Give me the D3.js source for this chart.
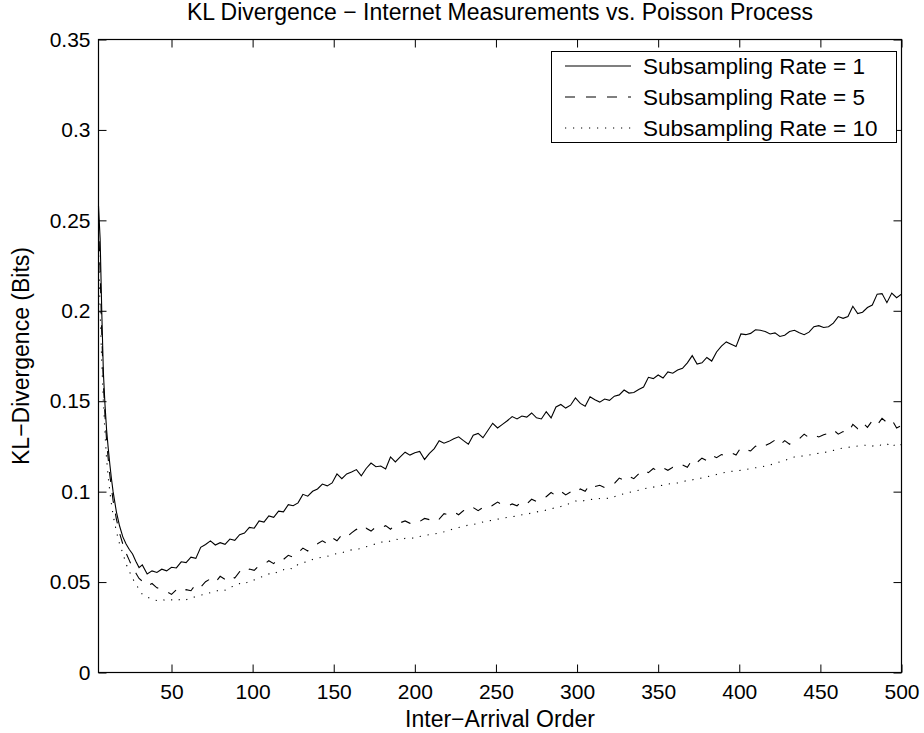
<!DOCTYPE html>
<html>
<head>
<meta charset="utf-8">
<script src="https://cdn.jsdelivr.net/npm/d3@7"></script>
<style>
  body { margin: 0; background: #fff; }
  svg { display: block; font-family: "Liberation Sans", Arial, Helvetica, sans-serif; }
</style>
</head>
<body>
<svg id="chart" width="924" height="733"></svg>
<script>
// inter-arrival order (x values shared by all three series)
const order = [5, 6, 7, 8, 9, 10, 11, 12, 13, 14, 16, 18, 20, 22, 24, 26, 28, 30,
  32, 35, 38, 41, 44, 47, 50, 53, 56, 59, 62, 65, 68, 71, 74, 77, 80, 83, 86, 89,
  92, 95, 98, 101, 104, 107, 110, 113, 116, 119, 122, 125, 128, 131, 134, 137, 140, 143,
  146, 149, 152, 155, 158, 161, 164, 167, 170, 173, 176, 179, 182, 185, 188, 191, 194, 197,
  200, 203, 206, 209, 212, 215, 218, 221, 224, 227, 230, 233, 236, 239, 242, 245, 248, 251,
  254, 257, 260, 263, 266, 269, 272, 275, 278, 281, 284, 287, 290, 293, 296, 299, 302, 305,
  308, 311, 314, 317, 320, 323, 326, 329, 332, 335, 338, 341, 344, 347, 350, 353, 356, 359,
  362, 365, 368, 371, 374, 377, 380, 383, 386, 389, 392, 395, 398, 401, 404, 407, 410, 413,
  416, 419, 422, 425, 428, 431, 434, 437, 440, 443, 446, 449, 452, 455, 458, 461, 464, 467,
  470, 473, 476, 479, 482, 485, 488, 491, 494, 497, 500];

// subsampling rate = 1
const klRate1 = [0.258, 0.240, 0.200, 0.166, 0.148, 0.134, 0.124, 0.115, 0.107, 0.100, 0.089, 0.081, 0.075, 0.071, 0.068, 0.0655, 0.0615, 0.058,
  0.0595, 0.0545, 0.0562, 0.0553, 0.0571, 0.0562, 0.0582, 0.0578, 0.0612, 0.0608, 0.0638, 0.0631, 0.0692, 0.0708, 0.0728, 0.0705, 0.0718, 0.0709, 0.0738, 0.0731,
  0.0762, 0.0771, 0.0802, 0.0798, 0.0838, 0.0832, 0.0866, 0.0858, 0.0892, 0.0888, 0.0928, 0.0922, 0.0938, 0.0985, 0.0975, 0.1002, 0.1015, 0.1042,
  0.1032, 0.1048, 0.1098, 0.1072, 0.1098, 0.1108, 0.1122, 0.1088, 0.1128, 0.1158, 0.1138, 0.1142, 0.1126, 0.1192, 0.1164, 0.1192, 0.1218, 0.1202,
  0.1215, 0.1222, 0.1178, 0.1212, 0.1238, 0.1282, 0.1268, 0.1278, 0.1292, 0.1303, 0.1282, 0.1262, 0.1312, 0.1322, 0.1298, 0.1338, 0.1378, 0.1352,
  0.1372, 0.1392, 0.1415, 0.1402, 0.1418, 0.1412, 0.1435, 0.1408, 0.1402, 0.1442, 0.1408, 0.1468, 0.1482, 0.1462, 0.1478, 0.1518, 0.1488, 0.1472,
  0.1525, 0.1508, 0.1495, 0.1512, 0.1505, 0.1528, 0.1535, 0.1562, 0.1545, 0.1548, 0.1565, 0.1578, 0.1632, 0.1625, 0.1645, 0.1628, 0.1662, 0.1655,
  0.1672, 0.1682, 0.1712, 0.1752, 0.1705, 0.1712, 0.1742, 0.1722, 0.1772, 0.1805, 0.1828, 0.1815, 0.1802, 0.1872, 0.1868, 0.1875, 0.1895, 0.1892,
  0.1885, 0.1872, 0.1878, 0.1858, 0.1865, 0.1885, 0.1892, 0.1878, 0.1868, 0.1882, 0.1912, 0.1918, 0.1908, 0.1912, 0.1932, 0.1968, 0.1958, 0.1968,
  0.2025, 0.1985, 0.1992, 0.2018, 0.2032, 0.2092, 0.2095, 0.2045, 0.2098, 0.2072, 0.2092];

// subsampling rate = 5
const klRate5 = [0.250, 0.222, 0.188, 0.160, 0.142, 0.128, 0.118, 0.109, 0.102, 0.095, 0.085, 0.077, 0.071, 0.066, 0.062, 0.058, 0.055, 0.052,
  0.0505, 0.0478, 0.0492, 0.0468, 0.0462, 0.0448, 0.0432, 0.0458, 0.0442, 0.0458, 0.0452, 0.0488, 0.0472, 0.0502, 0.0518, 0.0498, 0.0532, 0.0515, 0.0538, 0.0522,
  0.0558, 0.0545, 0.0572, 0.0565, 0.0592, 0.0598, 0.0618, 0.0602, 0.0632, 0.0625, 0.0648, 0.0638, 0.0662, 0.0688, 0.0672, 0.0698, 0.0712, 0.0728,
  0.0712, 0.0745, 0.0728, 0.0762, 0.0748, 0.0772, 0.0792, 0.0775, 0.0798, 0.0782, 0.0805, 0.0798, 0.0812, 0.0792, 0.0818, 0.0828, 0.0838, 0.0825,
  0.0842, 0.0835, 0.0852, 0.0845, 0.0862, 0.0848, 0.0878, 0.0872, 0.0888, 0.0872, 0.0895, 0.0888, 0.0912, 0.0895, 0.0912, 0.0905, 0.0925, 0.0942,
  0.0928, 0.0918, 0.0932, 0.0922, 0.0945, 0.0932, 0.0958, 0.0945, 0.0965, 0.0972, 0.0995, 0.0978, 0.1002, 0.0982, 0.0998, 0.0988, 0.1015, 0.1002,
  0.1042, 0.1028, 0.1035, 0.1022, 0.1032, 0.1045, 0.1075, 0.1062, 0.1085, 0.1072, 0.1098, 0.1122, 0.1105, 0.1128, 0.1112, 0.1132, 0.1118, 0.1135,
  0.1128, 0.1148, 0.1135, 0.1178, 0.1162, 0.1185, 0.1172, 0.1202, 0.1188, 0.1205, 0.1198, 0.1215, 0.1202, 0.1245, 0.1232, 0.1225, 0.1252, 0.1238,
  0.1255, 0.1268, 0.1285, 0.1258, 0.1282, 0.1262, 0.1285, 0.1292, 0.1318, 0.1298, 0.1312, 0.1302, 0.1315, 0.1322, 0.1342, 0.1318, 0.1332, 0.1325,
  0.1372, 0.1348, 0.1382, 0.1355, 0.1392, 0.1368, 0.1405, 0.1382, 0.1398, 0.1352, 0.1365];

// subsampling rate = 10
const klRate10 = [0.235, 0.200, 0.172, 0.150, 0.132, 0.118, 0.108, 0.100, 0.093, 0.087, 0.078, 0.071, 0.066, 0.060, 0.056, 0.052, 0.049, 0.046,
  0.0432, 0.0418, 0.0405, 0.0398, 0.0405, 0.0396, 0.0402, 0.0395, 0.0408, 0.0402, 0.0415, 0.0418, 0.0428, 0.0432, 0.0442, 0.0448, 0.0458, 0.0455, 0.0472, 0.0478,
  0.0492, 0.0488, 0.0508, 0.0512, 0.0525, 0.0532, 0.0545, 0.0542, 0.0562, 0.0568, 0.0578, 0.0572, 0.0598, 0.0608, 0.0612, 0.0625, 0.0632, 0.0638,
  0.0642, 0.0652, 0.0658, 0.0662, 0.0672, 0.0678, 0.0682, 0.0685, 0.0695, 0.0702, 0.0712, 0.0722, 0.0718, 0.0728, 0.0738, 0.0732, 0.0742, 0.0745,
  0.0742, 0.0752, 0.0758, 0.0762, 0.0765, 0.0772, 0.0778, 0.0785, 0.0795, 0.0802, 0.0808, 0.0815, 0.0818, 0.0825, 0.0832, 0.0838, 0.0842, 0.0848,
  0.0852, 0.0858, 0.0862, 0.0865, 0.0872, 0.0875, 0.0882, 0.0888, 0.0892, 0.0898, 0.0905, 0.0912, 0.0918, 0.0925, 0.0938, 0.0948, 0.0945, 0.0952,
  0.0958, 0.0955, 0.0962, 0.0965, 0.0962, 0.0972, 0.0982, 0.0988, 0.0995, 0.1002, 0.1008, 0.1015, 0.1022, 0.1025, 0.1032, 0.1035, 0.1042, 0.1045,
  0.1048, 0.1055, 0.1062, 0.1065, 0.1072, 0.1075, 0.1082, 0.1088, 0.1095, 0.1102, 0.1108, 0.1112, 0.1115, 0.1118, 0.1122, 0.1128, 0.1132, 0.1135,
  0.1142, 0.1148, 0.1155, 0.1165, 0.1172, 0.1182, 0.1192, 0.1195, 0.1198, 0.1202, 0.1208, 0.1212, 0.1215, 0.1222, 0.1228, 0.1235, 0.1242, 0.1245,
  0.1248, 0.1252, 0.1255, 0.1258, 0.1252, 0.1262, 0.1255, 0.1265, 0.1245, 0.1268, 0.1258];

const seriesNames = ["Subsampling Rate = 1", "Subsampling Rate = 5", "Subsampling Rate = 10"];
const xTicks = [50, 100, 150, 200, 250, 300, 350, 400, 450, 500];
const yTicks = [0, 0.05, 0.1, 0.15, 0.2, 0.25, 0.3, 0.35];
const yTickLabels = ["0", "0.05", "0.1", "0.15", "0.2", "0.25", "0.3", "0.35"];

const svg = d3.select("#chart");
const tickFont = 21;
const labelFont = 23;
const legendFont = 22.5;

// axes box
const boxLeft = 98.5, boxRight = 901.5, boxTop = 39.5, boxBottom = 672.5;

const x = d3.scaleLinear().domain([5, 500]).range([boxLeft, boxRight]);
const y = d3.scaleLinear().domain([0, 0.35]).range([boxBottom, boxTop]);

const dashes = ["none", "10,11", "1.2,6.8"];
const series = [klRate1, klRate5, klRate10].map((vals, i) => ({
  name: seriesNames[i],
  dash: dashes[i],
  points: order.map((o, j) => [o, vals[j]])
}));

// plot lines
const line = d3.line().x(d => x(d[0])).y(d => y(d[1]));

svg.append("g")
  .selectAll("path")
  .data(series)
  .join("path")
    .attr("d", d => line(d.points))
    .attr("fill", "none")
    .attr("stroke", "#000")
    .attr("stroke-width", 1.1)
    .attr("stroke-dasharray", d => d.dash);

// ticks, all pointing inward like matlab
function styleAxis(g) {
  g.select(".domain").remove();
  g.selectAll("line").attr("stroke", "#000");
  g.selectAll("text")
    .attr("fill", "#000")
    .attr("font-size", tickFont)
    .attr("font-family", "Liberation Sans, Arial, Helvetica, sans-serif");
}

svg.append("g")
  .attr("transform", `translate(0,${boxBottom})`)
  .call(d3.axisBottom(x).tickValues(xTicks).tickSizeInner(-8).tickSizeOuter(0).tickPadding(12))
  .call(styleAxis);

svg.append("g")
  .attr("transform", `translate(0,${boxTop})`)
  .call(d3.axisTop(x).tickValues(xTicks).tickSizeInner(-8).tickSizeOuter(0).tickFormat(""))
  .call(styleAxis);

svg.append("g")
  .attr("transform", `translate(${boxLeft},0)`)
  .call(d3.axisLeft(y).tickValues(yTicks).tickSizeInner(-8).tickSizeOuter(0).tickPadding(8)
    .tickFormat((d, i) => yTickLabels[i]))
  .call(styleAxis);

svg.append("g")
  .attr("transform", `translate(${boxRight},0)`)
  .call(d3.axisRight(y).tickValues(yTicks).tickSizeInner(-8).tickSizeOuter(0).tickFormat(""))
  .call(styleAxis);

svg.append("rect")
  .attr("x", boxLeft).attr("y", boxTop)
  .attr("width", boxRight - boxLeft).attr("height", boxBottom - boxTop)
  .attr("fill", "none")
  .attr("stroke", "#000")
  .attr("stroke-width", 1.2);

// titles
svg.append("text")
  .attr("x", (boxLeft + boxRight) / 2)
  .attr("y", 20)
  .attr("text-anchor", "middle")
  .attr("font-size", labelFont)
  .text("KL Divergence \u2212 Internet Measurements vs. Poisson Process");

svg.append("text")
  .attr("x", (boxLeft + boxRight) / 2)
  .attr("y", 727)
  .attr("text-anchor", "middle")
  .attr("font-size", labelFont)
  .text("Inter\u2212Arrival Order");

svg.append("text")
  .attr("transform", `translate(29,${(boxTop + boxBottom) / 2}) rotate(-90)`)
  .attr("text-anchor", "middle")
  .attr("font-size", labelFont)
  .text("KL\u2212Divergence (Bits)");

// legend
const legend = svg.append("g");
legend.append("rect")
  .attr("x", 551.5).attr("y", 51.5)
  .attr("width", 345).attr("height", 91)
  .attr("fill", "#fff")
  .attr("stroke", "#000")
  .attr("stroke-width", 1);

const rows = legend.selectAll("g.row")
  .data(series)
  .join("g")
    .attr("class", "row")
    .attr("transform", (d, i) => `translate(0,${66 + i * 31})`);

rows.append("line")
  .attr("x1", 565).attr("x2", 631)
  .attr("y1", 0).attr("y2", 0)
  .attr("stroke", "#000")
  .attr("stroke-width", 1.1)
  .attr("stroke-dasharray", d => d.dash);

rows.append("text")
  .attr("x", 643)
  .attr("y", 7.5)
  .attr("font-size", legendFont)
  .text(d => d.name);
</script>
</body>
</html>
